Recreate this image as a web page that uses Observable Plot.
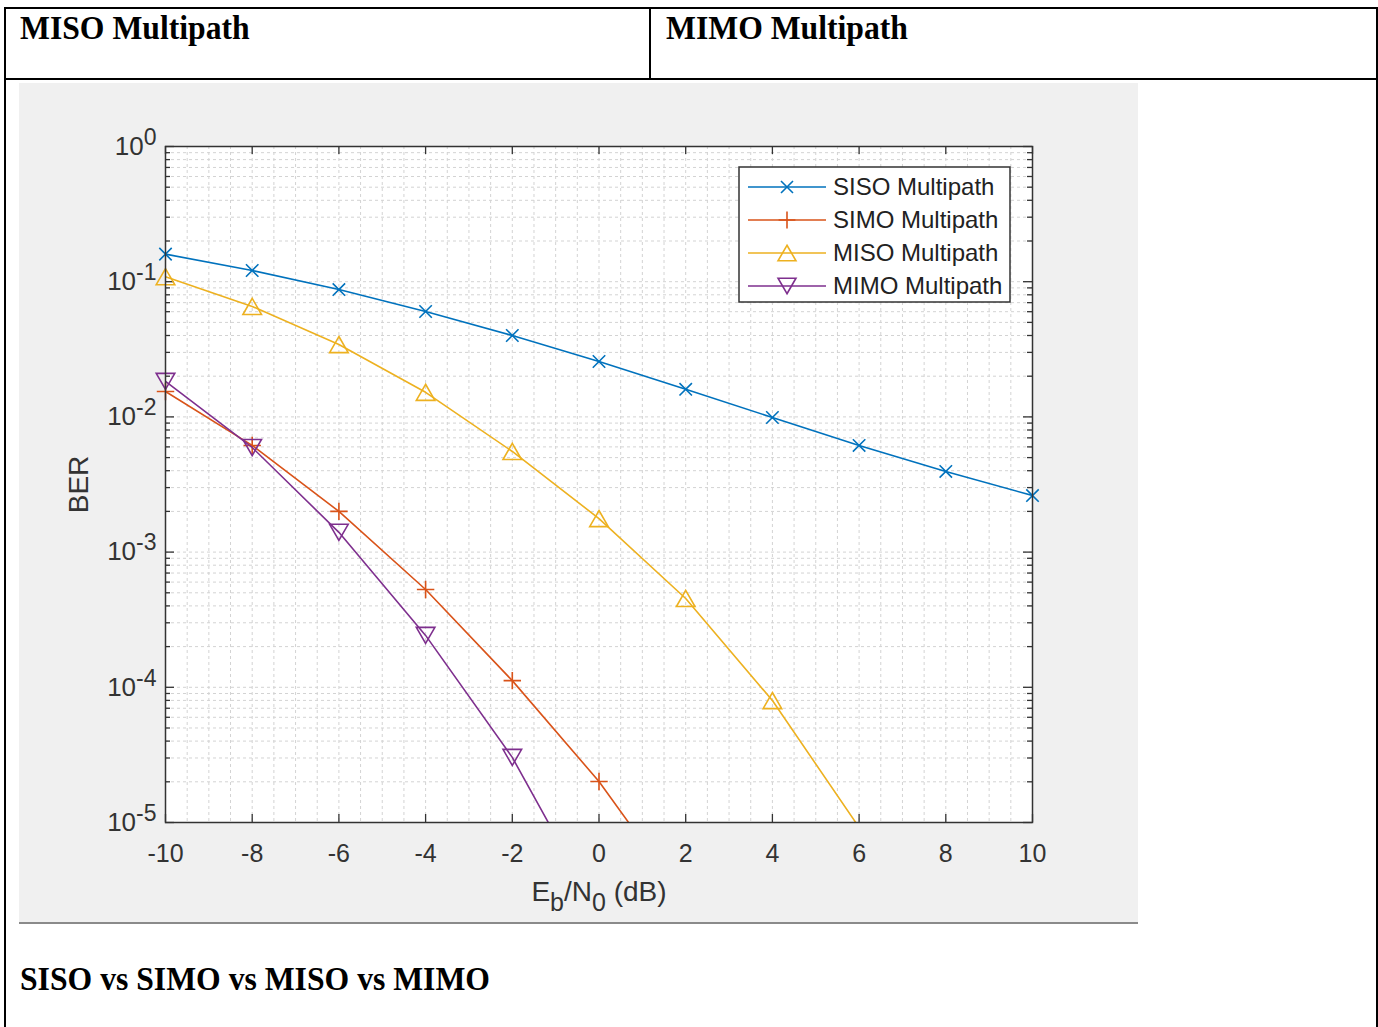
<!DOCTYPE html>
<html>
<head>
<meta charset="utf-8">
<script src="https://cdn.jsdelivr.net/npm/d3@7"></script>
<script src="https://cdn.jsdelivr.net/npm/@observablehq/plot@0.6"></script>
<style>
  html, body { margin: 0; padding: 0; background: #fff; }
  body { width: 1378px; height: 1027px; position: relative; overflow: hidden;
         font-family: "Liberation Sans", Arial, Helvetica, sans-serif; }
  .rule { position: absolute; background: #000; }
  .head { position: absolute; font-family: "Liberation Serif", "Times New Roman", serif;
          font-weight: bold; font-size: 33px; line-height: 33px; white-space: nowrap; color: #000;
          transform: scaleX(0.96); transform-origin: left top; }
  #figure { position: absolute; left: 19px; top: 83px; width: 1119px; height: 839px;
            background: #f0f0f0; border-bottom: 2px solid #8a8a8a; }
  #figure svg.chart { position: absolute; left: 0; top: 0; }
</style>
</head>
<body>
<!-- document table borders -->
<div class="rule" style="left:4px;top:7px;width:1374px;height:2px"></div>
<div class="rule" style="left:4px;top:78px;width:1374px;height:2px"></div>
<div class="rule" style="left:4px;top:7px;width:2px;height:1020px"></div>
<div class="rule" style="left:1376px;top:7px;width:2px;height:1020px"></div>
<div class="rule" style="left:649px;top:7px;width:2px;height:72px"></div>

<div class="head" style="left:20px;top:12px">MISO Multipath</div>
<div class="head" style="left:666px;top:12px">MIMO Multipath</div>
<div class="head" style="left:20px;top:963px">SISO vs SIMO vs MISO vs MIMO</div>

<div id="figure"></div>

<script>
// Eb/N0 sweep (dB)
const snr = [-10, -8, -6, -4, -2, 0, 2, 4, 6, 8, 10];

// Bit error rate per scheme (null where no error was measured)
const berSISO = [0.160, 0.121, 0.0875, 0.0602, 0.0400, 0.0257, 0.0160, 0.0099, 0.00615, 0.00395, 0.00262];
const berSIMO = [0.0154, 0.00615, 0.00200, 5.29e-4, 1.12e-4, 2.01e-5, 2.6e-6, null, null, null, null];
const berMISO = [0.109, 0.0656, 0.0343, 0.0152, 0.00555, 0.00177, 4.54e-4, 7.98e-5, 9.2e-6, null, null];
const berMIMO = [0.0183, 0.00594, 0.00140, 2.42e-4, 3.03e-5, 2.1e-6, null, null, null, null, null];

const seriesNames = ["SISO Multipath", "SIMO Multipath", "MISO Multipath", "MIMO Multipath"];
const seriesColors = ["#0072BD", "#D95319", "#EDB120", "#7E2F8E"];

const xTicks = [-10, -8, -6, -4, -2, 0, 2, 4, 6, 8, 10];
const yTicks = [1e-5, 1e-4, 1e-3, 1e-2, 1e-1, 1];
const yMin = 1e-5, yMax = 1;

// MATLAB-style markers as custom symbols (size is r²π)
const markTimes = { draw(ctx, size) { const s = Math.sqrt(size / Math.PI) * 0.75;
  ctx.moveTo(-s, -s); ctx.lineTo(s, s); ctx.moveTo(s, -s); ctx.lineTo(-s, s); } };
const markPlus = { draw(ctx, size) { const s = Math.sqrt(size / Math.PI) * 1.05;
  ctx.moveTo(-s, 0); ctx.lineTo(s, 0); ctx.moveTo(0, -s); ctx.lineTo(0, s); } };
const markUp = { draw(ctx, size) { const r = Math.sqrt(size / Math.PI), w = r * 1.12, h = r * 0.97;
  ctx.moveTo(0, -h); ctx.lineTo(w, h); ctx.lineTo(-w, h); ctx.closePath(); } };
const markDown = { draw(ctx, size) { const r = Math.sqrt(size / Math.PI), w = r * 1.12, h = r * 0.97;
  ctx.moveTo(0, h); ctx.lineTo(w, -h); ctx.lineTo(-w, -h); ctx.closePath(); } };
const seriesMarks = [markTimes, markPlus, markUp, markDown];

const seriesValues = [berSISO, berSIMO, berMISO, berMIMO];
const rows = seriesNames.map((name, i) =>
  snr.map((x, j) => ({ series: name, x, ber: seriesValues[i][j] }))
);

// grid and minor tick positions
const xGrid = d3.range(-19, 20).map(k => k / 2);
const yGrid = [];
const yMinor = [];
for (let e = -5; e <= -1; e++) for (let m = 1; m <= 9; m++) {
  const v = m * Math.pow(10, e);
  if (v > yMin) yGrid.push(v);
  if (m > 1) yMinor.push(v);
}

const W = 1119, H = 839, mL = 146, mR = 106, mT = 63, mB = 100;
const fw = W - mL - mR, fh = H - mT - mB;
const ink = "#333333";
const gridStyle = { stroke: "#d3d3d3", strokeWidth: 1, strokeDasharray: "3,3" };

const marks = [
  Plot.frame({ fill: "white", stroke: null }),
  Plot.ruleX(xGrid, { x: d => d, ...gridStyle }),
  Plot.ruleY(yGrid, { y: d => d, ...gridStyle }),
  // inward ticks on all four sides
  Plot.tickX(xTicks, { x: d => d, insetTop: fh - 8, stroke: ink, strokeWidth: 1.3 }),
  Plot.tickX(xTicks, { x: d => d, insetBottom: fh - 8, stroke: ink, strokeWidth: 1.3 }),
  Plot.tickY(yTicks, { y: d => d, insetRight: fw - 9, stroke: ink, strokeWidth: 1.3 }),
  Plot.tickY(yTicks, { y: d => d, insetLeft: fw - 9, stroke: ink, strokeWidth: 1.3 }),
  Plot.tickY(yMinor, { y: d => d, insetRight: fw - 5, stroke: ink, strokeWidth: 1.3 }),
  Plot.tickY(yMinor, { y: d => d, insetLeft: fw - 5, stroke: ink, strokeWidth: 1.3 })
];

rows.forEach((data, i) => {
  // the curve is clipped at the axes; markers are only drawn inside the y range
  marks.push(Plot.line(data, { x: "x", y: "ber", stroke: seriesColors[i], strokeWidth: 1.6, clip: true }));
  marks.push(Plot.dot(data, { x: "x", y: "ber", filter: d => d.ber != null && d.ber >= yMin,
    symbol: seriesMarks[i], r: 8.3, fill: "none", stroke: seriesColors[i], strokeWidth: 1.6 }));
});

marks.push(
  Plot.frame({ stroke: ink, strokeWidth: 1.5 }),
  Plot.axisX({ ticks: xTicks, tickSize: 0, tickPadding: 22, tickFormat: d => String(d),
    fontSize: 25, fill: ink, label: null }),
  Plot.axisY({ ticks: yTicks, tickSize: 0, tickPadding: 9,
    tickFormat: d => "10^" + Math.round(Math.log10(d)), fontSize: 26, fill: ink, label: null }),
  Plot.text(["E_b/N_0 (dB)"], { text: d => d, frameAnchor: "bottom", lineAnchor: "middle",
    textAnchor: "middle", dy: 70, fontSize: 28, fill: ink }),
  Plot.text(["BER"], { text: d => d, frameAnchor: "left", lineAnchor: "middle", textAnchor: "middle",
    rotate: -90, dx: -86, fontSize: 28, fill: ink })
);

const chart = Plot.plot({
  width: W, height: H,
  marginLeft: mL, marginRight: mR, marginTop: mT, marginBottom: mB,
  style: { background: "transparent", fontFamily: "'Liberation Sans', Arial, Helvetica, sans-serif",
           color: ink, overflow: "visible" },
  x: { domain: [-10, 10] },
  y: { type: "log", domain: [yMin, yMax] },
  marks
});
chart.classList.add("chart");

const NS = "http://www.w3.org/2000/svg";
function tspan(text, attrs) {
  const t = document.createElementNS(NS, "tspan");
  for (const k in attrs) t.setAttribute(k, attrs[k]);
  t.textContent = text;
  return t;
}

// powers of ten with raised exponents
chart.querySelectorAll('[aria-label="y-axis tick label"] text').forEach(t => {
  const [base, exp] = t.textContent.split("^");
  t.textContent = base;
  t.appendChild(tspan(exp, { dy: "-10", "font-size": "23" }));
});

// Eb/N0 with subscripts
chart.querySelectorAll("text").forEach(t => {
  if (t.textContent !== "E_b/N_0 (dB)") return;
  t.textContent = "";
  const down = 10, sub = 25;
  t.appendChild(tspan("E", {}));
  t.appendChild(tspan("b", { dy: down, "font-size": sub }));
  t.appendChild(tspan("/N", { dy: -down }));
  t.appendChild(tspan("0", { dy: down, "font-size": sub }));
  t.appendChild(tspan(" (dB)", { dy: -down }));
});

const fig = document.getElementById("figure");
fig.appendChild(chart);

// legend box in the upper-right of the axes
const lg = d3.create("svg").attr("width", 273).attr("height", 137)
  .style("position", "absolute").style("left", (739 - 19 - 1) + "px").style("top", (167 - 83 - 1) + "px");
lg.append("rect").attr("x", 1).attr("y", 1).attr("width", 271).attr("height", 135)
  .attr("fill", "white").attr("stroke", ink).attr("stroke-width", 1.5);
seriesNames.forEach((name, i) => {
  const cy = 21 + 33 * i;
  lg.append("line").attr("x1", 10).attr("x2", 88).attr("y1", cy).attr("y2", cy)
    .attr("stroke", seriesColors[i]).attr("stroke-width", 1.6);
  lg.append("path").attr("d", d3.symbol(seriesMarks[i], 64 * Math.PI)())
    .attr("transform", `translate(49,${cy})`).attr("fill", "none")
    .attr("stroke", seriesColors[i]).attr("stroke-width", 1.6);
  lg.append("text").attr("x", 95).attr("y", cy).attr("dy", "0.35em")
    .attr("font-family", "'Liberation Sans', Arial, Helvetica, sans-serif")
    .attr("font-size", 24).attr("fill", "#222").text(name);
});
fig.appendChild(lg.node());
</script>
</body>
</html>
